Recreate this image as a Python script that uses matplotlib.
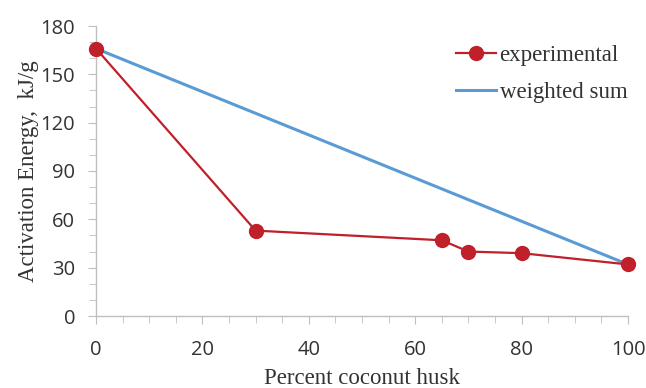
import matplotlib
matplotlib.use("Agg")
import matplotlib.pyplot as plt
from matplotlib.ticker import MultipleLocator

x_exp = [0, 30, 65, 70, 80, 100]
y_exp = [166, 53, 47, 40, 39, 32]
x_ws = [0, 100]
y_ws = [166, 32]
xticks = [0, 20, 40, 60, 80, 100]
yticks = [0, 30, 60, 90, 120, 150, 180]

W, H = 646, 388
fig = plt.figure(figsize=(W / 100, H / 100), dpi=100)
ax = fig.add_axes([96 / W, (H - 316) / H, (628 - 96) / W, (316 - 26) / H])

red = "#C0202A"
blue = "#5B9BD5"
ax.plot(x_exp, y_exp, color=red, lw=1.6, marker="o", ms=10, label="experimental", zorder=3)
ax.plot(x_ws, y_ws, color=blue, lw=2.2, label="weighted sum", zorder=2)

ax.set_xlim(0, 100)
ax.set_ylim(0, 180)
ax.set_xticks(xticks)
ax.set_yticks(yticks)
ax.xaxis.set_minor_locator(MultipleLocator(5))
ax.yaxis.set_minor_locator(MultipleLocator(10))
for s in ["top", "right"]:
    ax.spines[s].set_visible(False)
for s in ["left", "bottom"]:
    ax.spines[s].set_color("#BFBFBF")
    ax.spines[s].set_linewidth(1.0)
ax.tick_params(which="both", direction="out", color="#BFBFBF", labelsize=14.5, labelcolor="#333333")
ax.tick_params(which="major", length=6)
ax.tick_params(which="minor", length=5)
ax.tick_params(axis="x", which="major", pad=11)
ax.tick_params(axis="y", which="major", pad=9)
for ln in ax.lines:
    ln.set_clip_on(False)

for lab in ax.get_xticklabels() + ax.get_yticklabels():
    lab.set_family("Open Sans")

serif = "Liberation Serif"
ax.set_xlabel("Percent coconut husk", family=serif, fontsize=16.5, color="#333333", labelpad=6)
ax.set_ylabel("Activation Energy,  kJ/g", family=serif, fontsize=16.5, color="#333333", labelpad=1)

leg = fig.legend(handles=ax.lines, loc="upper left", bbox_to_anchor=(456 / W, (H - 45) / H),
                 frameon=False, prop={"family": serif, "size": 16.5}, handlelength=1.75,
                 handletextpad=0.15, labelspacing=0.7, borderpad=0, borderaxespad=0)
for t in leg.get_texts():
    t.set_color("#333333")

fig.savefig("out.png", dpi=100)
